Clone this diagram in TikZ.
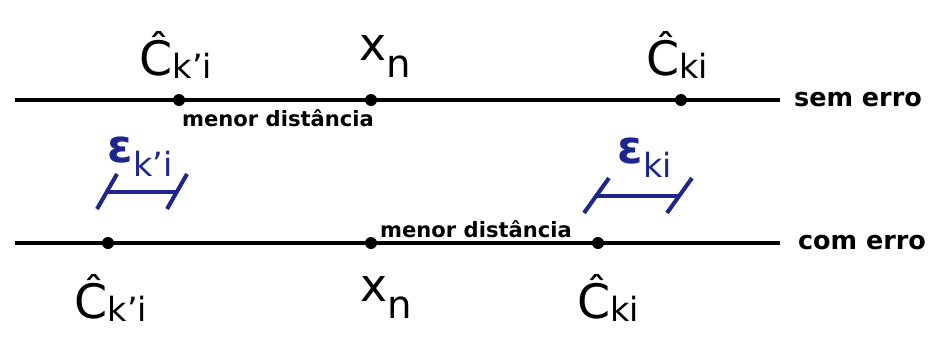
\documentclass[tikz,border=0pt]{standalone}
\usepackage{fontspec}
\setmainfont{DejaVu Sans}
\usetikzlibrary{positioning}
\definecolor{epsblue}{RGB}{28,38,140}

\newcommand{\chatlbl}[1]{{\fontsize{27}{29}\selectfont\^{C}}\raisebox{-2pt}{\fontsize{19}{21}\selectfont #1}}
\newcommand{\xnlbl}{{\fontsize{26}{28}\selectfont x}\raisebox{-10pt}{\fontsize{22}{24}\selectfont n}}
\newcommand{\epslbl}[1]{{\bfseries\fontsize{26}{28}\selectfont ε}\raisebox{-8pt}{\fontsize{19}{21}\selectfont #1}}

\begin{document}
\begin{tikzpicture}[
    x=0.02cm, y=-0.02cm,
    axis/.style={line width=2.6pt},
    pt/.style={circle, fill=black, inner sep=0pt, minimum size=2.4mm},
    lbl/.style={font=\bfseries\fontsize{12}{14}\selectfont, inner sep=1pt},
    sidelbl/.style={font=\bfseries\fontsize{14.5}{16}\selectfont, inner sep=1pt},
    cname/.style={inner sep=0pt, anchor=base},
    epsname/.style={inner sep=0pt, anchor=base, text=epsblue},
    errbar/.style={draw=epsblue, line width=2.3pt}
]
\useasboundingbox (0,0) rectangle (930,336);

% sem erro
\coordinate (t0) at (15,100);
\coordinate (t1) at (780,100);
\draw[axis] (t0) -- (t1);
\node[pt] (tc1) at (179,100) {};
\node[pt] (tx) at (371,100) {};
\node[pt] (tc2) at (681,100) {};
\node[cname] (ltc1) at (176,75) {\chatlbl{k’i}};
\node[cname] (ltx) at (385,60) {\xnlbl};
\node[cname] (ltc2) at (677,75) {\chatlbl{ki}};
\node[lbl] (dtop) at (278,118) {menor distância};
\node[sidelbl] (sem) at (858,100) {sem erro};

% com erro
\coordinate (b0) at (15,243);
\coordinate (b1) at (780,243);
\draw[axis] (b0) -- (b1);
\node[pt] (bc1) at (108,243) {};
\node[pt] (bx) at (371,243) {};
\node[pt] (bc2) at (598,243) {};
\node[cname] (lbc1) at (111,318) {\chatlbl{k’i}};
\node[cname] (lbx) at (386,301) {\xnlbl};
\node[cname] (lbc2) at (608,318) {\chatlbl{ki}};
\node[lbl] (dbot) at (476,229) {menor distância};
\node[sidelbl] (com) at (862,243) {com erro};

% erros
\node[epsname] (e1) at (140,162) {\epslbl{k’i}};
\coordinate (e1a) at (107,192);
\coordinate (e1b) at (177,192);
\draw[errbar] (e1a) -- (e1b);
\draw[errbar] (e1a) ++(-10,17) -- ++(20,-35);
\draw[errbar] (e1b) ++(-10,17) -- ++(20,-35);

\node[epsname] (e2) at (645,163) {\epslbl{ki}};
\coordinate (e2a) at (596,196);
\coordinate (e2b) at (679,196);
\draw[errbar] (e2a) -- (e2b);
\draw[errbar] (e2a) ++(-12,17) -- ++(25,-35);
\draw[errbar] (e2b) ++(-12,17) -- ++(25,-35);
\end{tikzpicture}
\end{document}
